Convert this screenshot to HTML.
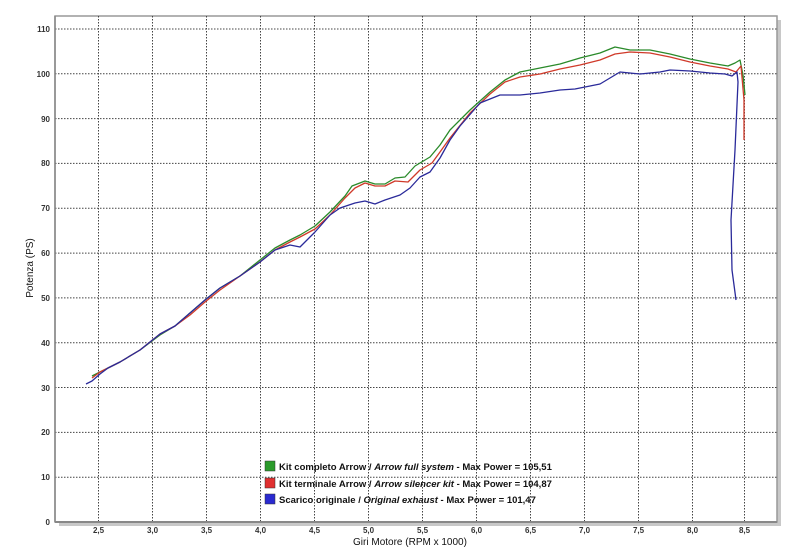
<!DOCTYPE html>
<html><head><meta charset="utf-8"><style>
body{margin:0;background:#fff;}
svg{display:block;font-family:"Liberation Sans","DejaVu Sans",sans-serif;}
</style></head><body>
<svg width="800" height="553" viewBox="0 0 800 553">
<rect x="0" y="0" width="800" height="553" fill="#fff"/>
<rect x="59" y="20" width="722" height="506" fill="#c8c8c8"/>
<rect x="55" y="16" width="722" height="506" fill="#fff" stroke="#999" stroke-width="1.5"/>
<g stroke="#444" stroke-width="1" stroke-dasharray="1.5,1.5">
<line x1="55" y1="29" x2="777" y2="29"/><line x1="55" y1="73.8" x2="777" y2="73.8"/>
<line x1="55" y1="118.6" x2="777" y2="118.6"/><line x1="55" y1="163.4" x2="777" y2="163.4"/>
<line x1="55" y1="208.3" x2="777" y2="208.3"/><line x1="55" y1="253.1" x2="777" y2="253.1"/>
<line x1="55" y1="297.9" x2="777" y2="297.9"/><line x1="55" y1="342.7" x2="777" y2="342.7"/>
<line x1="55" y1="387.5" x2="777" y2="387.5"/><line x1="55" y1="432.4" x2="777" y2="432.4"/>
<line x1="55" y1="477.2" x2="777" y2="477.2"/>
<line x1="98.5" y1="16" x2="98.5" y2="522"/><line x1="152.5" y1="16" x2="152.5" y2="522"/>
<line x1="206.5" y1="16" x2="206.5" y2="522"/><line x1="260.5" y1="16" x2="260.5" y2="522"/>
<line x1="314.5" y1="16" x2="314.5" y2="522"/><line x1="368.5" y1="16" x2="368.5" y2="522"/>
<line x1="422.5" y1="16" x2="422.5" y2="522"/><line x1="476.5" y1="16" x2="476.5" y2="522"/>
<line x1="530.5" y1="16" x2="530.5" y2="522"/><line x1="584.5" y1="16" x2="584.5" y2="522"/>
<line x1="638.5" y1="16" x2="638.5" y2="522"/><line x1="692.5" y1="16" x2="692.5" y2="522"/>
<line x1="744.5" y1="16" x2="744.5" y2="522"/>
</g>
<line x1="55" y1="522" x2="777" y2="522" stroke="#888" stroke-width="2"/>
<line x1="55" y1="16" x2="55" y2="522" stroke="#888" stroke-width="1.5"/>
<g font-size="8" fill="#333" text-anchor="end" font-weight="bold">
<text x="50" y="32">110</text><text x="50" y="77">100</text><text x="50" y="122">90</text>
<text x="50" y="166">80</text><text x="50" y="211">70</text><text x="50" y="256">60</text>
<text x="50" y="301">50</text><text x="50" y="346">40</text><text x="50" y="391">30</text>
<text x="50" y="435">20</text><text x="50" y="480">10</text><text x="50" y="525">0</text>
</g>
<g font-size="8" fill="#333" text-anchor="middle" font-weight="bold">
<text x="98.5" y="533">2,5</text><text x="152.5" y="533">3,0</text><text x="206.5" y="533">3,5</text>
<text x="260.5" y="533">4,0</text><text x="314.5" y="533">4,5</text><text x="368.5" y="533">5,0</text>
<text x="422.5" y="533">5,5</text><text x="476.5" y="533">6,0</text><text x="530.5" y="533">6,5</text>
<text x="584.5" y="533">7,0</text><text x="638.5" y="533">7,5</text><text x="692.5" y="533">8,0</text>
<text x="744.5" y="533">8,5</text>
</g>
<text x="410" y="545" font-size="10" text-anchor="middle" fill="#111">Giri Motore (RPM x 1000)</text>
<text transform="translate(33,268) rotate(-90)" font-size="10" text-anchor="middle" fill="#111">Potenza (PS)</text>
<g fill="none" stroke-width="1.3" stroke-linejoin="round">
<polyline stroke="#2a8a2a" points="92,376 100,372 108,368 120,362 140,350 160,335 175,326 190,313 205,300 220,288 240,276 260,260 275,248 290,240 300,235 315,226 330,212 345,196 352,186 365,181 375,184 385,184 395,178 405,177 415,166 430,157 440,145 450,130 470,110 490,92 505,80 520,72 540,68 560,64 580,58 600,53 615,47 630,50 650,50 670,54 690,59 710,63 728,66 735,63 740,60 743,75 745,95"/>
<polyline stroke="#d03a2a" points="92,378 100,372 108,368 120,362 140,350 160,334 175,326 190,315 205,302 220,290 240,276 260,262 275,250 290,242 300,237 315,229 330,215 345,198 355,188 365,183 375,186 385,186 395,181 408,182 420,170 432,163 440,152 450,138 470,113 490,94 505,82 520,77 540,74 560,69 580,65 600,60 615,54 630,52 650,53 670,57 690,62 710,66 728,69 736,72 741,66 744,100 744,140"/>
<polyline stroke="#2a2a9a" points="86,384 92,381 100,374 108,368 120,362 140,350 160,334 175,326 190,313 205,300 220,288 240,276 260,262 275,250 290,245 300,247 315,232 330,215 340,208 355,203 365,201 375,204 385,200 400,195 410,188 420,177 430,172 440,158 450,140 460,126 480,103 500,95 520,95 540,93 560,90 575,89 590,86 600,84 620,72 640,74 660,72 670,70 690,71 710,73 725,74 732,76 737,72 738,82 735,150 731,220 732,270 736,300"/>
</g>
<g font-size="9.5" font-weight="bold" fill="#111">
<rect x="265" y="461" width="10" height="10" fill="#2a9a2a" stroke="#333" stroke-width=".5"/>
<text x="279" y="470">Kit completo Arrow / <tspan font-style="italic">Arrow full system</tspan> - Max Power = 105,51</text>
<rect x="265" y="478" width="10" height="10" fill="#e03030" stroke="#333" stroke-width=".5"/>
<text x="279" y="487">Kit terminale Arrow / <tspan font-style="italic">Arrow silencer kit</tspan> - Max Power = 104,87</text>
<rect x="265" y="494" width="10" height="10" fill="#2a2ad0" stroke="#333" stroke-width=".5"/>
<text x="279" y="503">Scarico originale / <tspan font-style="italic">Original exhaust</tspan> - Max Power = 101,47</text>
</g>
</svg>
</body></html>
